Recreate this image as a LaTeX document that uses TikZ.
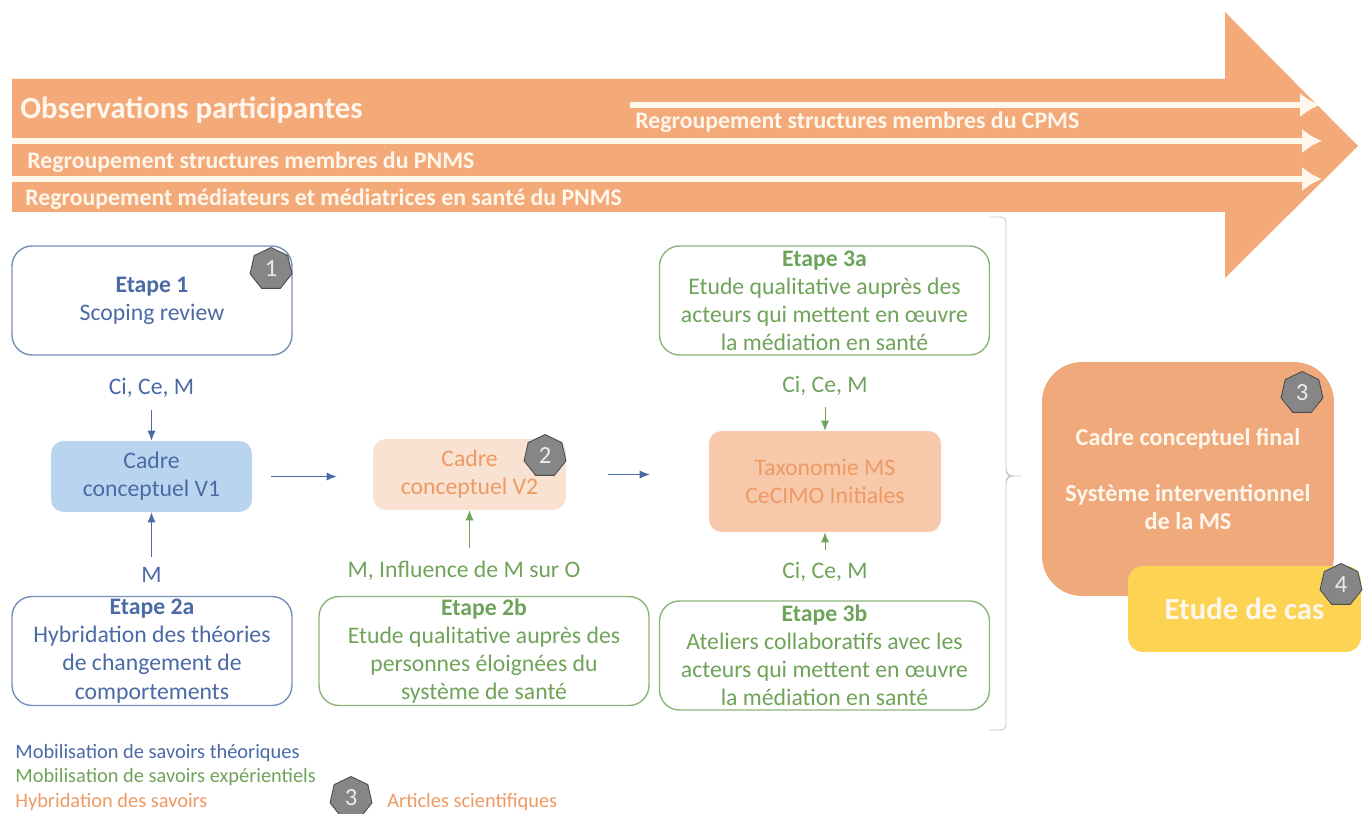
\documentclass[tikz,border=0pt]{standalone}
\usepackage{fontspec}
\setmainfont{Carlito}
\usetikzlibrary{arrows.meta,shapes.geometric}
\definecolor{bigorange}{HTML}{F3AA78}
\definecolor{finalorange}{HTML}{EFA97B}
\definecolor{lightwhite}{HTML}{FFF6EC}
\definecolor{theoblue}{HTML}{4A6AA5}
\definecolor{expgreen}{HTML}{6FA35A}
\definecolor{hybrid}{HTML}{EE9A63}
\definecolor{cadreblue}{HTML}{B9D4EE}
\definecolor{cadrepeach}{HTML}{FAE2D2}
\definecolor{taxopeach}{HTML}{F7C8AA}
\definecolor{casyellow}{HTML}{FDD354}
\tikzset{
  txt/.style={font=\fontsize{13.5}{16}\selectfont, align=center, inner sep=0pt},
  boxTxt/.style={txt, execute at begin node={\rule{0pt}{11.5pt}}},
  blueBox/.style={boxTxt, draw=theoblue!75, line width=0.8pt, rounded corners=0.4cm, fill=white, text=theoblue, minimum width=5.6cm, minimum height=2.18cm},
  greenBox/.style={boxTxt, draw=expgreen!80, line width=0.8pt, rounded corners=0.4cm, fill=white, text=expgreen, minimum width=6.6cm, minimum height=2.18cm},
  cadre/.style={txt, execute at begin node={\rule{0pt}{14pt}}, rounded corners=0.25cm},
  badge/.style={regular polygon, regular polygon sides=7, fill=gray!95, draw=gray!60!black, line width=0.5pt, text=white!85!gray, inner sep=0pt, minimum size=0.86cm, font=\fontsize{14}{14}\selectfont},
  whiteLine/.style={-{Latex[length=0.4cm,width=0.5cm]}, draw=lightwhite, line width=3.8pt},
  bandTxt/.style={font=\fontsize{13.55}{15}\selectfont\bfseries, text=lightwhite, anchor=west, inner sep=0pt},
  legend/.style={font=\fontsize{11.6}{13}\selectfont, anchor=west, inner sep=0pt},
  lien/.style={-{Latex[length=0.2cm,width=0.16cm]}, line width=0.4pt}
}
\begin{document}
\begin{tikzpicture}[x=0.02cm, y=-0.02cm]
\useasboundingbox (0,0) rectangle (1365,814);

% big arrow
\fill[bigorange] (12,79) -- (1225,79) -- (1225,12) -- (1358,146) -- (1225,278) -- (1225,212) -- (12,212) -- cycle;

\coordinate (l1a) at (630,105);
\coordinate (l1b) at (1320,105);
\coordinate (l2a) at (12,141);
\coordinate (l2b) at (1322,141);
\coordinate (l3a) at (12,179);
\coordinate (l3b) at (1322,179);
\draw[whiteLine] (l1a) -- (l1b);
\draw[whiteLine] (l2a) -- (l2b);
\draw[whiteLine] (l3a) -- (l3b);

\node[bandTxt, font=\fontsize{17.5}{19}\selectfont\bfseries] (obs) at (20,110) {Observations participantes};
\node[bandTxt] (cpms) at (635,122) {Regroupement structures membres du CPMS};
\node[bandTxt] (pnms) at (27,162) {Regroupement structures membres du PNMS};
\node[bandTxt] (med) at (25,199) {Regroupement médiateurs et médiatrices en santé du PNMS};

% etapes
\node[blueBox] (etape1) at (152,300.5) {\textbf{Etape 1}\\Scoping review};
\node[blueBox] (etape2a) at (152,651) {\textbf{Etape 2a}\\Hybridation des théories\\de changement de\\comportements};
\node[greenBox] (etape2b) at (484,651) {\textbf{Etape 2b}\\Etude qualitative auprès des\\personnes éloignées du\\système de santé};
\node[greenBox] (etape3a) at (824.5,300.5) {\textbf{Etape 3a}\\Etude qualitative auprès des\\acteurs qui mettent en œuvre\\la médiation en santé};
\node[greenBox] (etape3b) at (824.5,655.5) {\textbf{Etape 3b}\\Ateliers collaboratifs avec les\\acteurs qui mettent en œuvre\\la médiation en santé};

% cadres
\node[cadre, text=theoblue, minimum width=4.02cm, minimum height=1.42cm, fill=cadreblue] (cadre1) at (151.5,476.5) {Cadre\\conceptuel V1};
\node[cadre, text=hybrid, minimum width=3.86cm, minimum height=1.42cm, fill=cadrepeach] (cadre2) at (469.5,474.5) {Cadre\\conceptuel V2};
\node[cadre, text=hybrid, minimum width=4.64cm, minimum height=2.02cm, fill=taxopeach] (taxo) at (825,481.5) {Taxonomie MS\\CeCIMO Initiales};

% labels
\node[txt, text=theoblue] (ci1) at (151.5,388) {Ci, Ce, M};
\node[txt, text=theoblue] (m1) at (151.5,575) {M};
\node[txt, text=expgreen] (m2) at (464,571) {M, Influence de M sur O};
\node[txt, text=expgreen] (ci2) at (825,386) {Ci, Ce, M};
\node[txt, text=expgreen] (ci3) at (825,572) {Ci, Ce, M};

\draw[lien, draw=theoblue, shorten <=0.24cm] (ci1) -- (cadre1);
\draw[lien, draw=theoblue, shorten <=0.2cm] (m1) -- (cadre1);
\draw[lien, draw=expgreen, shorten <=0.26cm] (m2.north -| cadre2) -- (cadre2);
\draw[lien, draw=expgreen, shorten <=0.22cm] (ci2) -- (taxo);
\draw[lien, draw=expgreen, shorten <=0.24cm] (ci3) -- (taxo);
\draw[lien, draw=theoblue, shorten <=0.38cm, shorten >=0.72cm] (cadre1.east) -- (cadre1.east -| cadre2.west);
\draw[lien, draw=theoblue, shorten <=0.84cm, shorten >=1.18cm] (cadre2.east) -- (cadre2.east -| taxo.west);

% accolade
\draw[gray!45, line width=0.5pt, rounded corners=0.1cm] (989,217) -- (1006,217) -- (1006,472) -- (1009,476) -- (1024,476) -- (1009,476) -- (1006,480) -- (1006,730) -- (989,730);

% sorties
\node[txt, font=\fontsize{13.8}{16}\selectfont\bfseries, text=lightwhite, rounded corners=0.8cm, fill=finalorange, minimum width=5.84cm, minimum height=4.68cm] (final) at (1188,479) {Cadre conceptuel final\\[16pt]Système interventionnel\\de la MS};
\node[boxTxt, font=\fontsize{17.5}{20}\selectfont\bfseries, text=lightwhite, rounded corners=0.3cm, fill=casyellow, minimum width=4.66cm, minimum height=1.72cm] (cas) at (1244.5,609) {Etude de cas};

% badges
\node[badge] (b1) at (271,269) {1};
\node[badge] (b2) at (545,456) {2};
\node[badge] (b3) at (1302,393) {3};
\node[badge] (b4) at (1341,585) {4};

% legende
\node[legend, text=theoblue] (leg1) at (15,753) {Mobilisation de savoirs théoriques};
\node[legend, text=expgreen] (leg2) at (15,777) {Mobilisation de savoirs expérientiels};
\node[legend, text=hybrid] (leg3) at (15,802) {Hybridation des savoirs};
\node[badge] (b5) at (351,798) {3};
\node[legend, text=hybrid] (leg4) at (387,802) {Articles scientifiques};
\end{tikzpicture}
\end{document}
